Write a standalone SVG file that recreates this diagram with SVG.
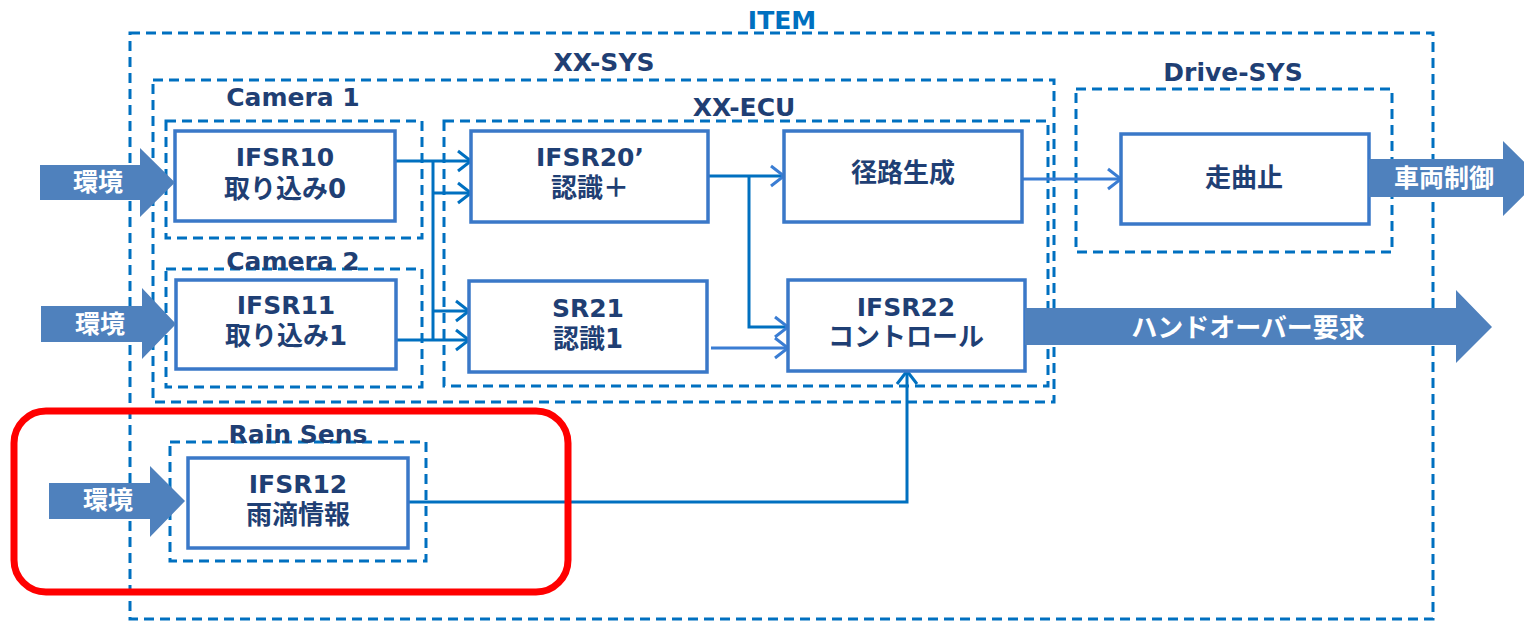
<svg xmlns="http://www.w3.org/2000/svg" width="1524" height="621" viewBox="0 0 1524 621">
<style>
.dash{fill:none;stroke:#0070C0;stroke-width:3;stroke-dasharray:10 6}
.node rect{fill:#fff;stroke:#3A78C8;stroke-width:3.5}
.lbl{font-family:"DejaVu Sans","Noto Sans CJK JP",sans-serif;font-weight:bold;font-size:25px;fill:#1F3F74;text-anchor:middle}
.nt{font-family:"DejaVu Sans","Noto Sans CJK JP",sans-serif;font-weight:bold;font-size:25px;fill:#1F3F74;text-anchor:middle;dominant-baseline:central}
.jp{font-size:26px}
.wt{font-family:"Noto Sans CJK JP",sans-serif;font-weight:bold;font-size:25px;fill:#fff;text-anchor:middle;dominant-baseline:central}
.fat{fill:#4F81BD}
.c{fill:none;stroke:#0070C0;stroke-width:3}
.c2{fill:none;stroke:#3A7DD3;stroke-width:3}
</style>
<defs>
<marker id="ah" markerUnits="userSpaceOnUse" viewBox="0 0 17 24" refX="15" refY="12" markerWidth="17" markerHeight="24" orient="auto">
<path d="M2,2 L15,12 L2,22" fill="none" stroke="#3A7DD3" stroke-width="3"/>
</marker>
<marker id="ahd" markerUnits="userSpaceOnUse" viewBox="0 0 17 24" refX="15" refY="12" markerWidth="17" markerHeight="24" orient="auto">
<path d="M2,2 L15,12 L2,22" fill="none" stroke="#0070C0" stroke-width="3"/>
</marker>
</defs>

<g id="containers">
<rect class="dash" x="130" y="33" width="1303" height="586"/>
<rect class="dash" x="153" y="80" width="901" height="322"/>
<rect class="dash" x="166" y="121" width="256" height="117"/>
<rect class="dash" x="166" y="269" width="256" height="118"/>
<rect class="dash" x="170" y="442" width="256" height="119"/>
<rect class="dash" x="444" y="121" width="604" height="265"/>
<rect class="dash" x="1076" y="89" width="316" height="163"/>
<text class="lbl" x="782" y="29" style="fill:#0070C0">ITEM</text>
<text class="lbl" x="604" y="71">XX-SYS</text>
<text class="lbl" x="293" y="106">Camera 1</text>
<text class="lbl" x="293" y="270">Camera 2</text>
<text class="lbl" x="298" y="443">Rain Sens</text>
<text class="lbl" x="744" y="116">XX-ECU</text>
<text class="lbl" x="1233" y="81">Drive-SYS</text>
</g>

<g id="connectors">
<path class="c" d="M395,161 H471" marker-end="url(#ahd)"/>
<path class="c" d="M433,161 V340"/>
<path class="c" d="M433,193 H471" marker-end="url(#ahd)"/>
<path class="c" d="M433,311 H469" marker-end="url(#ahd)"/>
<path class="c" d="M396,340 H469" marker-end="url(#ahd)"/>
<path class="c" d="M708,176 H784" marker-end="url(#ah)"/>
<path class="c" d="M749,176 V327 H788" marker-end="url(#ah)"/>
<path class="c2" d="M711,348 H788" marker-end="url(#ah)"/>
<path class="c2" d="M1022,179 H1121" marker-end="url(#ah)"/>
<path class="c" d="M408,502 H907 V371" marker-end="url(#ahd)"/>
</g>

<g id="n-ifsr10" class="node"><rect x="175" y="131" width="220" height="90"/>
<text class="nt" x="285" y="157">IFSR10</text><text class="nt jp" x="285" y="189">取り込み0</text></g>
<g id="n-ifsr11" class="node"><rect x="176" y="280" width="220" height="89"/>
<text class="nt" x="286" y="305">IFSR11</text><text class="nt jp" x="286" y="336">取り込み1</text></g>
<g id="n-ifsr12" class="node"><rect x="188" y="458" width="220" height="90"/>
<text class="nt" x="298" y="484">IFSR12</text><text class="nt jp" x="298" y="515">雨滴情報</text></g>
<g id="n-ifsr20" class="node"><rect x="471" y="131" width="237" height="91"/>
<text class="nt" x="590" y="157">IFSR20’</text><text class="nt jp" x="590" y="188">認識＋</text></g>
<g id="n-sr21" class="node"><rect x="469" y="281" width="238" height="91"/>
<text class="nt" x="588" y="308">SR21</text><text class="nt jp" x="588" y="339">認識1</text></g>
<g id="n-route" class="node"><rect x="784" y="131" width="238" height="91"/>
<text class="nt jp" x="903" y="173">径路生成</text></g>
<g id="n-ifsr22" class="node"><rect x="788" y="280" width="237" height="91"/>
<text class="nt" x="906" y="307">IFSR22</text><text class="nt jp" x="906" y="337">コントロール</text></g>
<g id="n-drive" class="node"><rect x="1121" y="134" width="248" height="90"/>
<text class="nt jp" x="1244" y="178">走曲止</text></g>

<g id="in-env1"><polygon class="fat" points="40,165 140,165 140,148 175,182.5 140,217 140,200 40,200"/><text class="wt" x="98" y="180">環境</text></g>
<g id="in-env2"><polygon class="fat" points="41,306 142,306 142,288 176,324 142,359 142,342 41,342"/><text class="wt" x="100" y="322">環境</text></g>
<g id="in-env3"><polygon class="fat" points="49,483 150,483 150,466 185,501 150,537 150,519 49,519"/><text class="wt" x="108" y="498">環境</text></g>
<g id="out-vehicle"><polygon class="fat" points="1369,159 1503,159 1503,141 1541,178.5 1503,216 1503,197 1369,197"/><text class="wt" x="1444" y="176">車両制御</text></g>
<g id="out-handover"><polygon class="fat" points="1025,308 1456,308 1456,290 1492,327 1456,363 1456,345 1025,345"/><text class="wt" x="1248" y="325" style="font-size:26px">ハンドオーバー要求</text></g>

<g id="highlight"><rect x="14" y="411" width="554" height="181" rx="32" fill="none" stroke="#FF0000" stroke-width="7"/></g>
</svg>
